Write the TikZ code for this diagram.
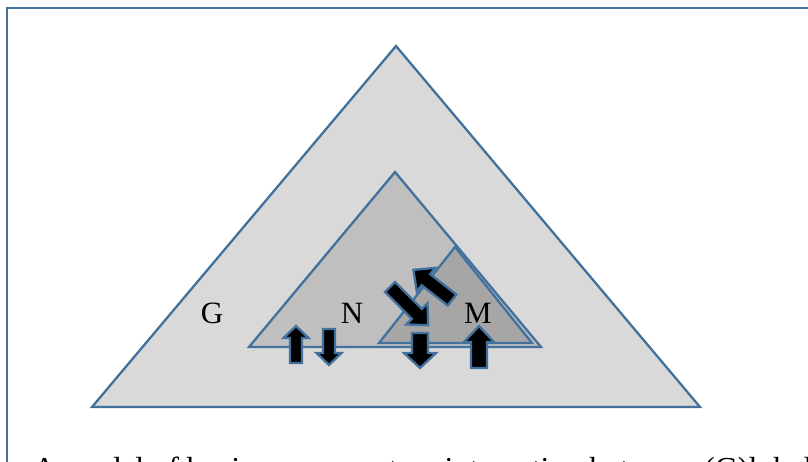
\documentclass[tikz,border=0pt]{standalone}
\usepackage{fontspec}
\setmainfont{Liberation Serif}
\definecolor{edge}{HTML}{41719C}
\definecolor{gfill}{HTML}{D9D9D9}
\definecolor{nfill}{HTML}{BFBFBF}
\definecolor{mfill}{HTML}{A6A6A6}
\tikzset{
  tri/.style={draw=edge, line width=2.3pt, line join=miter},
  blk/.style={draw=edge, fill=black, line width=2.3pt, line join=miter},
  lbl/.style={font=\fontsize{31}{34}\selectfont, inner sep=0pt},
}
\newcommand{\blockarr}[7]{%
  \begin{scope}[shift={(#1,#2)},rotate=#3]
    \draw[blk] (0,-#5) -- ({#4-#7},-#5) -- ({#4-#7},-#6) -- (#4,0) -- ({#4-#7},#6) -- ({#4-#7},#5) -- (0,#5) -- cycle;
  \end{scope}}
\begin{document}
\begin{tikzpicture}[x=1pt,y=-1pt]
\useasboundingbox (0,0) rectangle (808,461);
% frame
\draw[edge, line width=2.3pt] (7,500) -- (7,8) -- (850,8);
% triangles
\draw[tri, fill=gfill] (396,46) -- (700,407) -- (92,407) -- cycle;
\draw[tri, fill=nfill] (395,172) -- (541,347) -- (249,347) -- cycle;
\draw[tri, fill=mfill] (455,247) -- (532,343) -- (379,343) -- cycle;
% labels
\node[lbl] (G) at (212,313) {G};
\node[lbl] (N) at (352,313) {N};
\node[lbl] (M) at (478,313) {M};
% block arrows
\blockarr{296}{363}{90}{37}{6}{12.5}{12}
\blockarr{329}{329}{-90}{36}{6}{12.5}{12}
\blockarr{420}{333}{-90}{35}{8}{16}{15}
\blockarr{479}{368}{90}{42}{8}{15}{16}
\blockarr{390}{287}{-45}{54}{7}{15}{16}
\blockarr{452}{300}{142}{49}{7}{15}{16}
% caption (cut by the page edge, as in the reference)
\node[anchor=base west, font=\fontsize{32}{35}\selectfont, inner sep=0pt] (cap) at (33,479) {A model of business ecosystem interaction between (G)lobal};
\end{tikzpicture}
\end{document}
